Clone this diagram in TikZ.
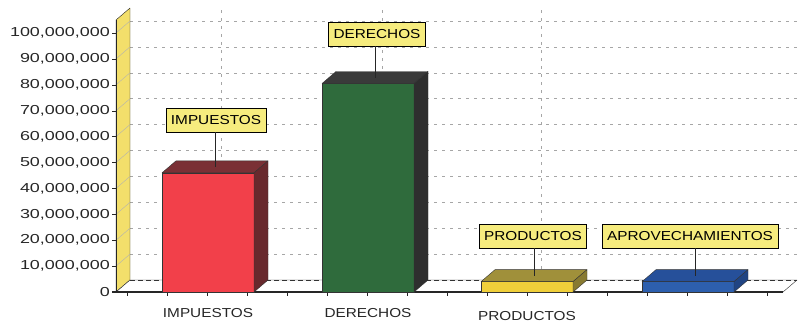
\documentclass[tikz,border=0pt]{standalone}
\usepackage{fontspec}
\setmainfont{Liberation Sans}
\newfontfamily\axisfont[FakeStretch=1.38]{Liberation Sans}
\newfontfamily\catfont[FakeStretch=1.18]{Liberation Sans}
\usetikzlibrary{positioning,calc}

\definecolor{wallyellow}{HTML}{F3DF6B}
\definecolor{tagyellow}{HTML}{F6EC7E}
\definecolor{impfront}{HTML}{F2404A}
\definecolor{imptop}{HTML}{7A3035}
\definecolor{derfront}{HTML}{2F6B3C}
\definecolor{dertop}{HTML}{3A3A3A}
\definecolor{prodfront}{HTML}{F0CF3A}
\definecolor{prodtop}{HTML}{A0903A}
\definecolor{aprovfront}{HTML}{2D5FAE}
\definecolor{aprovtop}{HTML}{26509A}

\begin{document}
\begin{tikzpicture}[
    x=1pt, y=-1pt,
    gridline/.style={gray!70, dash pattern=on 3pt off 5pt, line width=0.6pt},
    numlabel/.style={anchor=east, inner sep=0pt, font=\axisfont\fontsize{13}{13}\selectfont, text=black!85},
    catlabel/.style={font=\catfont\fontsize{13}{13}\selectfont, text=black!85},
    tagbox/.style={draw, thick, fill=tagyellow, inner xsep=5pt, minimum height=24pt, font=\catfont\fontsize{13}{13}\selectfont},
    barface/.style={draw=black!80, line join=round}
]
\useasboundingbox (0,0) rectangle (799,330);

% back wall grid
\foreach \v in {1,...,10} {
    \draw[gridline] (130,{280-25.9*\v}) -- (797,{280-25.9*\v});
}
\foreach \gx in {221,382,541} {
    \draw[gridline] (\gx,10) -- (\gx,280);
}

% left wall and floor
\filldraw[fill=wallyellow, draw=black!85, line join=round] (116,20) -- (130,8) -- (130,280) -- (116,292) -- cycle;
\foreach \v in {1,...,10} {
    \draw[gray!60, thin] (116,{292-25.9*\v}) -- (130,{280-25.9*\v});
}
\filldraw[fill=white, draw=black!85, line join=round] (116,292) -- (130,280) -- (797,280) -- (783,292) -- cycle;
\draw[black!80, dash pattern=on 5pt off 3pt, line width=0.9pt] (130,280) -- (797,280);

% value axis
\node[numlabel] (y0) at (110,292) {0};
\foreach \v in {1,...,10} {
    \node[numlabel] (y\v) at (110,{292-25.9*\v}) {\v0,000,000};
    \draw[black!85] (112,{292-25.9*\v}) -- (116,{292-25.9*\v});
}
\draw[black!85, line width=1pt] (116,20) -- (116,292);
\draw[black!85, line width=1.4pt] (112,292) -- (783,292);
\foreach \k in {0,...,16} {
    \draw[black!85] ({127+40*\k},292) -- ({127+40*\k},296);
}

% bars with their tags
\foreach \name/\xl/\val/\cf/\ct/\cs/\tx/\ty/\tag in {
    imp/162/46/impfront/imptop/imptop!85!black/216/120/IMPUESTOS,
    der/322/80.5/derfront/dertop/dertop!80!black/377/34/DERECHOS,
    prod/481/4/prodfront/prodtop/prodtop!85!black/533/236/PRODUCTOS,
    aprov/642/4/aprovfront/aprovtop/aprovtop!85!black/690/236/APROVECHAMIENTOS} {
    \pgfmathsetmacro\yt{292-2.59*\val}
    \pgfmathsetmacro\xr{\xl+92}
    \filldraw[barface, fill=\cf] (\xl,\yt) rectangle (\xr,292);
    \filldraw[barface, fill=\ct] (\xl,\yt) -- ++(14,-12) -- ++(92,0) -- (\xr,\yt) -- cycle;
    \filldraw[barface, fill=\cs] (\xr,\yt) -- ++(14,-12) -- (\xr+14,280) -- (\xr,292) -- cycle;
    \coordinate (\name top) at (\xl+53,\yt-6);
    \node[tagbox] (\name tag) at (\tx,\ty) {\tag};
    \draw[thick, black!85] (\name top) -- (\name top |- \name tag.south);
}

% category names
\node[catlabel] (impcat) at (208,313) {IMPUESTOS};
\node[catlabel] (dercat) at (368,313) {DERECHOS};
\node[catlabel] (prodcat) at (527,316) {PRODUCTOS};

\end{tikzpicture}
\end{document}
